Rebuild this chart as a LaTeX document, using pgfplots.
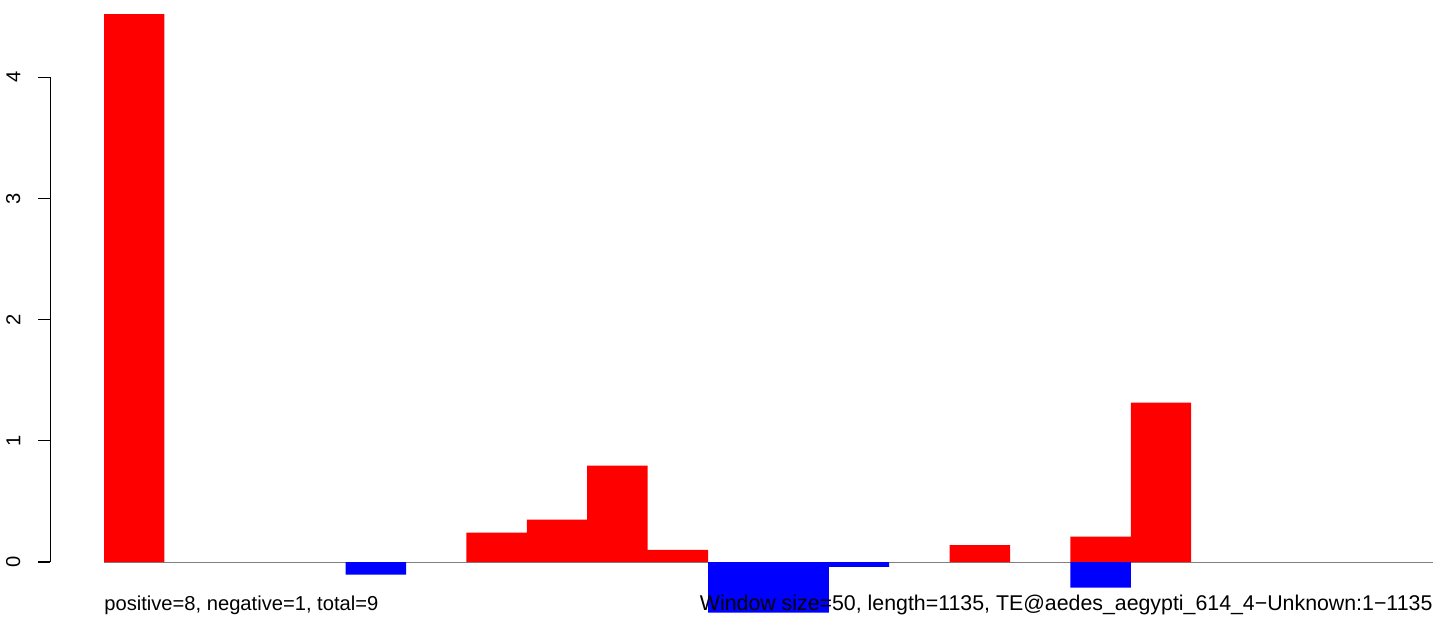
\documentclass[border=0pt]{standalone}
\usepackage{fontspec}
\setmainfont{Liberation Sans}
\usepackage{pgfplots}
\pgfplotsset{compat=1.18}
\definecolor{rred}{RGB}{255,0,0}
\definecolor{rblue}{RGB}{0,0,255}
\definecolor{rgray}{RGB}{128,128,128}
\begin{document}
\begin{tikzpicture}
\begin{axis}[
  scale only axis,
  width=829.5pt, height=377.4pt,
  xmin=-0.886, xmax=22.185,
  ymin=-0.594, ymax=4.637,
  axis x line=none,
  axis y line*=left,
  axis line style={draw=none},
  ytick={0,1,2,3,4},
  tick align=outside,
  major tick length=7.3pt,
  tick style={black, line width=0.75pt},
  yticklabel style={rotate=90, anchor=south, inner sep=0pt, yshift=10.5pt},
  /pgf/number format/assume math mode=true,
  font=\fontsize{12}{14}\selectfont,
  ticklabel style={font=\fontsize{12}{14}\selectfont},
  clip=false,
]
\draw[black, line width=0.75pt] (axis cs:-0.886,0) -- (axis cs:-0.886,4);
\draw[rgray, line width=0.6pt] (axis cs:0,0) -- (axis cs:22,0);
% positive windows
\addplot[ybar, bar width=1, bar shift=0pt, fill=rred, draw=none] coordinates {
 (0.5,4.52) (6.5,0.242) (7.5,0.349) (8.5,0.795) (9.5,0.10)
 (14.5,0.14) (16.5,0.209) (17.5,1.314)
};
% negative windows
\addplot[ybar, bar width=1, bar shift=0pt, fill=rblue, draw=none] coordinates {
 (4.5,-0.105) (10.5,-0.418) (11.5,-0.418) (12.5,-0.041) (16.5,-0.212)
};
\node[anchor=base west, inner sep=0pt] at (axis cs:0,-0.404) {positive=8, negative=1, total=9};
\node[anchor=base east, inner sep=0pt, font=\fontsize{12.7}{14}\selectfont] at (axis cs:22,-0.404) {Window size=50, length=1135, TE@aedes\_aegypti\_614\_4−Unknown:1−1135};
\coordinate (SW) at (rel axis cs:0,0);
\coordinate (NE) at (rel axis cs:1,1);
\end{axis}
\pgfresetboundingbox
\path[use as bounding box] ([xshift=-30.06pt]SW) rectangle (NE);
\end{tikzpicture}
\end{document}
